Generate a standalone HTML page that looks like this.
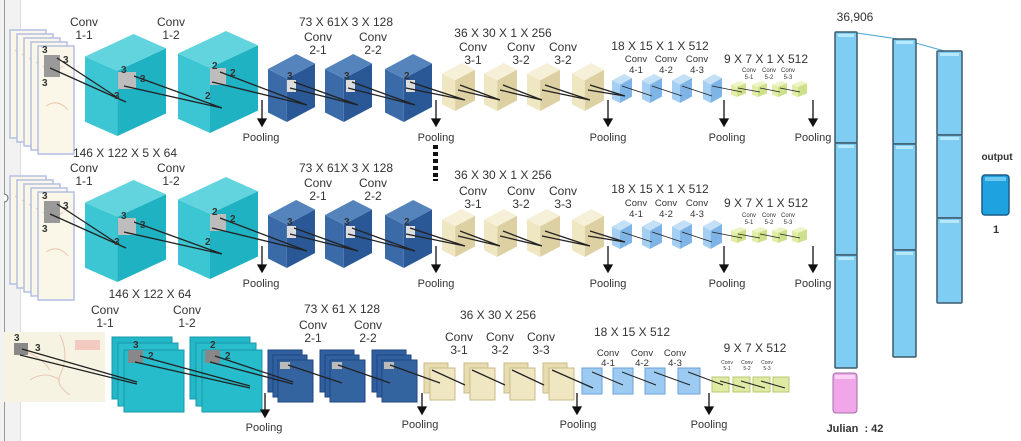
<!DOCTYPE html>
<html><head><meta charset="utf-8"><style>
html,body{margin:0;padding:0;background:#fff;}
svg{display:block;font-family:"Liberation Sans",sans-serif;}
text{fill:#333;}
</style></head><body>
<svg width="1021" height="441" viewBox="0 0 1021 441" xmlns="http://www.w3.org/2000/svg">
<defs>
<g id="cy"><polygon points="0,22 40,36 40,100 0,86" fill="#3cc6d3"/><polygon points="40,36 100,14 100,78 40,100" fill="#1fb2c3"/><polygon points="0,22 60,0 100,14 40,36" fill="#62d4de"/></g>
<g id="db"><polygon points="0,22 40,36 40,100 0,86" fill="#3a6aa8"/><polygon points="40,36 100,14 100,78 40,100" fill="#2a5896"/><polygon points="0,22 60,0 100,14 40,36" fill="#5584bd"/></g>
<g id="be"><polygon points="0,22 40,36 40,100 0,86" fill="#efe6c2"/><polygon points="40,36 100,14 100,78 40,100" fill="#ddd0a2"/><polygon points="0,22 60,0 100,14 40,36" fill="#f6f0d8"/></g>
<g id="lb"><polygon points="0,22 40,36 40,100 0,86" fill="#a5cff2"/><polygon points="40,36 100,14 100,78 40,100" fill="#7fb5e6"/><polygon points="0,22 60,0 100,14 40,36" fill="#c3e0f7"/></g>
<g id="yg"><polygon points="0,22 40,36 40,100 0,86" fill="#e2eea8"/><polygon points="40,36 100,14 100,78 40,100" fill="#cfe08a"/><polygon points="0,22 60,0 100,14 40,36" fill="#edf5c6"/></g>
<g id="sheet"><rect x="0" y="0" width="36" height="108" fill="#fbf7e8" stroke="#b3bfe6" stroke-width="1.5"/><path d="M5 20 q10 10 20 0 M8 60 q12 -8 22 4" stroke="#e9c9b0" fill="none"/></g>
<g id="row">
 <use href="#sheet" x="10" y="30"/><use href="#sheet" x="17" y="34"/><use href="#sheet" x="24" y="38"/><use href="#sheet" x="31" y="42"/><use href="#sheet" x="38" y="46"/>
 <rect x="44" y="55" width="16" height="22" fill="#9a9a9a"/>
 <use href="#cy" transform="translate(85,34) scale(0.81,1.02)"/>
 <use href="#cy" transform="translate(178,31) scale(0.8,1.02)"/>
 <use href="#db" transform="translate(268,54) scale(0.47,0.68)"/>
 <use href="#db" transform="translate(325,54) scale(0.47,0.68)"/>
 <use href="#db" transform="translate(385,54) scale(0.47,0.68)"/>
 <use href="#be" transform="translate(442,63) scale(0.33,0.48)"/>
 <use href="#be" transform="translate(484,63) scale(0.33,0.48)"/>
 <use href="#be" transform="translate(527,63) scale(0.33,0.48)"/>
 <use href="#be" transform="translate(572,63) scale(0.32,0.48)"/>
 <use href="#lb" transform="translate(612,74) scale(0.2,0.29)"/>
 <use href="#lb" transform="translate(642,74) scale(0.2,0.29)"/>
 <use href="#lb" transform="translate(672,74) scale(0.2,0.29)"/>
 <use href="#lb" transform="translate(703,74) scale(0.19,0.29)"/>
 <use href="#yg" transform="translate(731,81) scale(0.15,0.16)"/>
 <use href="#yg" transform="translate(752,81) scale(0.15,0.16)"/>
 <use href="#yg" transform="translate(772,81) scale(0.15,0.16)"/>
 <use href="#yg" transform="translate(792,81) scale(0.15,0.16)"/>
 <rect x="118" y="72" width="18" height="17" fill="#bdbdbd"/>
 <rect x="210" y="68" width="16" height="17" fill="#bdbdbd"/>
 <rect x="287" y="80" width="9" height="12" fill="#ddd"/>
 <rect x="346" y="80" width="9" height="12" fill="#ddd"/>
 <rect x="406" y="80" width="9" height="12" fill="#ddd"/>
 <g stroke="#222" stroke-width="1.3" fill="none">
  <path d="M57 58 L118 98 M50 68 L126 102"/>
  <path d="M134 76 L222 108 M124 86 L222 108"/>
  <path d="M220 72 L307 105 M212 82 L307 105"/>
  <path d="M294 82 L358 105 M290 88 L358 105"/>
  <path d="M352 82 L415 105 M348 88 L415 105"/>
  <path d="M410 82 L465 100 M406 88 L465 100"/>
  <path d="M460 85 L500 100 M458 90 L500 100 M503 85 L542 100 M500 90 L542 100 M545 85 L590 100 M542 90 L590 100 M590 85 L625 96 M588 90 L625 96"/>
  <path d="M622 86 L652 96 M652 86 L682 96 M682 86 L712 96 M712 86 L742 92 M738 88 L760 92 M760 88 L780 92 M780 88 L800 92" stroke-width="0.8"/>
 </g>
 <g font-size="10" font-weight="bold">
  <text x="42" y="53">3</text><text x="63" y="63">3</text><text x="42" y="86">3</text>
  <text x="121" y="73">3</text><text x="140" y="82">3</text><text x="114" y="99">3</text>
  <text x="212" y="69">2</text><text x="230" y="76">2</text><text x="205" y="99">2</text>
  <text x="287" y="79">3</text><text x="344" y="79">3</text><text x="404" y="79">2</text>
 </g>
 <g stroke="#111" stroke-width="1.3" fill="#111">
  <line x1="262" y1="100" x2="262" y2="120"/><polygon points="258,119 266,119 262,126"/>
  <line x1="436" y1="100" x2="436" y2="120"/><polygon points="432,119 440,119 436,126"/>
  <line x1="608" y1="100" x2="608" y2="120"/><polygon points="604,119 612,119 608,126"/>
  <line x1="724" y1="100" x2="724" y2="120"/><polygon points="720,119 728,119 724,126"/>
  <line x1="813" y1="100" x2="813" y2="120"/><polygon points="809,119 817,119 813,126"/>
 </g>
 <g font-size="11" text-anchor="middle">
  <text x="261" y="141">Pooling</text><text x="436" y="141">Pooling</text><text x="608" y="141">Pooling</text><text x="727" y="141">Pooling</text><text x="813" y="141">Pooling</text>
 </g>
</g>
</defs>
<rect x="0" y="0" width="20" height="441" fill="#f2f2f2"/>
<line x1="4.5" y1="0" x2="4.5" y2="441" stroke="#999"/>
<line x1="20.5" y1="0" x2="20.5" y2="441" stroke="#ddd"/>
<path d="M4 194 a4 4 0 0 1 0 8" stroke="#666" fill="#fff"/>

<use href="#row"/>
<use href="#row" y="146"/>

<g font-size="12" text-anchor="middle">
 <text x="84" y="26">Conv</text><text x="84" y="39">1-1</text>
 <text x="171" y="26">Conv</text><text x="171" y="39">1-2</text>
 <text x="346" y="26">73 X 61X 3 X 128</text>
 <text x="318" y="41">Conv</text><text x="318" y="54">2-1</text>
 <text x="373" y="41">Conv</text><text x="373" y="54">2-2</text>
 <text x="503" y="37">36 X 30 X 1 X 256</text>
 <text x="473" y="51">Conv</text><text x="473" y="64">3-1</text>
 <text x="521" y="51">Conv</text><text x="521" y="64">3-2</text>
 <text x="563" y="51">Conv</text><text x="563" y="64">3-2</text>
 <text x="660" y="50">18 X 15 X 1 X 512</text>
 <text x="766" y="63">9 X 7 X 1 X 512</text>
</g>
<g font-size="9.5" text-anchor="middle">
 <text x="636" y="62">Conv</text><text x="636" y="73">4-1</text>
 <text x="666" y="62">Conv</text><text x="666" y="73">4-2</text>
 <text x="697" y="62">Conv</text><text x="697" y="73">4-3</text>
</g>
<g font-size="6" text-anchor="middle" fill="#555">
 <text x="749" y="72">Conv</text><text x="749" y="79">5-1</text>
 <text x="769" y="72">Conv</text><text x="769" y="79">5-2</text>
 <text x="788" y="72">Conv</text><text x="788" y="79">5-3</text>
</g>
<g fill="#111"><rect x="433" y="145" width="5" height="4"/><rect x="433" y="152" width="5" height="4"/><rect x="433" y="159" width="5" height="4"/><rect x="433" y="166" width="5" height="4"/><rect x="433" y="173" width="5" height="4"/><rect x="433" y="179" width="5" height="2"/></g>

<g font-size="12" text-anchor="middle">
 <text x="125" y="157">146 X 122 X 5 X 64</text>
 <text x="84" y="172">Conv</text><text x="84" y="185">1-1</text>
 <text x="171" y="172">Conv</text><text x="171" y="185">1-2</text>
 <text x="346" y="172">73 X 61X 3 X 128</text>
 <text x="318" y="187">Conv</text><text x="318" y="200">2-1</text>
 <text x="373" y="187">Conv</text><text x="373" y="200">2-2</text>
 <text x="503" y="179">36 X 30 X 1 X 256</text>
 <text x="473" y="195">Conv</text><text x="473" y="208">3-1</text>
 <text x="521" y="195">Conv</text><text x="521" y="208">3-2</text>
 <text x="563" y="195">Conv</text><text x="563" y="208">3-3</text>
 <text x="660" y="193">18 X 15 X 1 X 512</text>
 <text x="766" y="207">9 X 7 X 1 X 512</text>
 <text x="150" y="298">146 X 122 X 64</text>
</g>
<g font-size="9.5" text-anchor="middle">
 <text x="636" y="206">Conv</text><text x="636" y="217">4-1</text>
 <text x="666" y="206">Conv</text><text x="666" y="217">4-2</text>
 <text x="697" y="206">Conv</text><text x="697" y="217">4-3</text>
</g>
<g font-size="6" text-anchor="middle" fill="#555">
 <text x="749" y="217">Conv</text><text x="749" y="224">5-1</text>
 <text x="769" y="217">Conv</text><text x="769" y="224">5-2</text>
 <text x="788" y="217">Conv</text><text x="788" y="224">5-3</text>
</g>

<!-- Row 3 -->
<rect x="4" y="332" width="101" height="70" fill="#f7f3e2"/>
<path d="M60 335 q10 20 0 40 q-5 10 10 20 M20 350 q20 5 30 20 M30 380 q15 -10 30 0" stroke="#e6c6b0" fill="none"/>
<rect x="75" y="340" width="25" height="10" fill="#f4c9c0"/>
<rect x="14" y="343" width="14" height="12" fill="#888"/>
<g stroke="#1898aa" stroke-width="1">
 <rect x="112" y="337" width="60" height="62" fill="#22b8c8"/><rect x="118" y="343" width="60" height="63" fill="#2abecd"/><rect x="124" y="350" width="60" height="62" fill="#26bccb"/>
 <rect x="190" y="337" width="60" height="62" fill="#22b8c8"/><rect x="196" y="343" width="60" height="63" fill="#2abecd"/><rect x="202" y="350" width="60" height="62" fill="#26bccb"/>
</g>
<g stroke="#1e4680" stroke-width="1">
 <rect x="268" y="350" width="34" height="42" fill="#2f5f9f"/><rect x="273" y="355" width="34" height="42" fill="#30609f"/><rect x="278" y="360" width="35" height="42" fill="#34649f"/>
 <rect x="320" y="350" width="34" height="42" fill="#2f5f9f"/><rect x="325" y="355" width="34" height="42" fill="#30609f"/><rect x="330" y="360" width="35" height="42" fill="#34649f"/>
 <rect x="372" y="350" width="34" height="42" fill="#2f5f9f"/><rect x="377" y="355" width="34" height="42" fill="#30609f"/><rect x="382" y="360" width="35" height="42" fill="#34649f"/>
</g>
<g stroke="#c9bb88" stroke-width="1">
 <rect x="424" y="363" width="24" height="30" fill="#e6dcb0"/><rect x="430" y="368" width="25" height="32" fill="#efe6c2"/>
 <rect x="464" y="363" width="24" height="30" fill="#e6dcb0"/><rect x="470" y="368" width="25" height="32" fill="#efe6c2"/>
 <rect x="504" y="363" width="24" height="30" fill="#e6dcb0"/><rect x="510" y="368" width="25" height="32" fill="#efe6c2"/>
 <rect x="543" y="363" width="24" height="30" fill="#e6dcb0"/><rect x="549" y="368" width="25" height="32" fill="#efe6c2"/>
</g>
<g stroke="#6aa3d8" stroke-width="1" fill="#9ccaf0">
 <rect x="582" y="368" width="20" height="26"/><rect x="613" y="368" width="20" height="26"/><rect x="645" y="368" width="20" height="26"/><rect x="678" y="368" width="22" height="26"/>
</g>
<g stroke="#b8c870" stroke-width="1" fill="#dfeaa5">
 <rect x="712" y="377" width="17" height="15"/><rect x="733" y="377" width="17" height="15"/><rect x="753" y="377" width="17" height="15"/><rect x="773" y="377" width="16" height="15"/>
</g>
<rect x="128" y="350" width="15" height="13" fill="#888"/>
<rect x="205" y="350" width="15" height="13" fill="#888"/>
<rect x="280" y="362" width="10" height="7" fill="#bbb"/><rect x="332" y="362" width="10" height="7" fill="#bbb"/><rect x="384" y="362" width="10" height="7" fill="#bbb"/>
<g stroke="#222" stroke-width="1.3" fill="none">
 <path d="M22 349 L137 382 M20 355 L137 384"/>
 <path d="M140 356 L250 386 M135 362 L250 388"/>
 <path d="M215 356 L293 382 M210 362 L293 384"/>
 <path d="M288 365 L342 383 M338 365 L390 383 M390 365 L440 383"/>
 <path d="M432 370 L465 385 M472 370 L505 385 M512 370 L544 385 M552 370 L593 388"/>
 <path d="M592 372 L623 385 M622 372 L656 385 M654 372 L690 385 M688 372 L723 385 M720 381 L745 388 M741 381 L765 388 M761 381 L785 388" stroke-width="1"/>
</g>
<g font-size="10" font-weight="bold">
 <text x="14" y="341">3</text><text x="35" y="351">3</text>
 <text x="133" y="348">3</text><text x="148" y="359">2</text>
 <text x="210" y="348">2</text><text x="225" y="359">2</text>
</g>
<g stroke="#111" stroke-width="1.3" fill="#111">
 <line x1="265" y1="393" x2="265" y2="411"/><polygon points="261,410 269,410 265,417"/>
 <line x1="422" y1="393" x2="422" y2="408"/><polygon points="418,407 426,407 422,414"/>
 <line x1="577" y1="393" x2="577" y2="408"/><polygon points="573,407 581,407 577,414"/>
 <line x1="709" y1="393" x2="709" y2="408"/><polygon points="705,407 713,407 709,414"/>
</g>
<g font-size="11" text-anchor="middle">
 <text x="264" y="431">Pooling</text><text x="420" y="428">Pooling</text><text x="578" y="428">Pooling</text><text x="709" y="428">Pooling</text>
</g>
<g font-size="12" text-anchor="middle">
 <text x="105" y="314">Conv</text><text x="105" y="327">1-1</text>
 <text x="187" y="314">Conv</text><text x="187" y="327">1-2</text>
 <text x="342" y="313">73 X 61 X 128</text>
 <text x="313" y="329">Conv</text><text x="313" y="342">2-1</text>
 <text x="368" y="329">Conv</text><text x="368" y="342">2-2</text>
 <text x="498" y="319">36 X 30 X 256</text>
 <text x="459" y="341">Conv</text><text x="459" y="354">3-1</text>
 <text x="500" y="341">Conv</text><text x="500" y="354">3-2</text>
 <text x="541" y="341">Conv</text><text x="541" y="354">3-3</text>
 <text x="632" y="336">18 X 15 X 512</text>
 <text x="755" y="352">9 X 7 X 512</text>
</g>
<g font-size="9.5" text-anchor="middle">
 <text x="608" y="356">Conv</text><text x="608" y="366">4-1</text>
 <text x="642" y="356">Conv</text><text x="642" y="366">4-2</text>
 <text x="675" y="356">Conv</text><text x="675" y="366">4-3</text>
</g>
<g font-size="5" text-anchor="middle" fill="#666">
 <text x="727" y="364">Conv</text><text x="727" y="370">5-1</text>
 <text x="747" y="364">Conv</text><text x="747" y="370">5-2</text>
 <text x="767" y="364">Conv</text><text x="767" y="370">5-3</text>
</g>

<!-- FC layers -->
<text x="855" y="21" font-size="12" text-anchor="middle">36,906</text>
<polyline points="857,33 905,40 948,52" stroke="#4aa8d8" fill="none"/>
<g stroke="#3d5a6a" stroke-width="1.5" fill="#7fcdf2">
 <rect x="835" y="32" width="22" height="111" rx="1"/><rect x="835" y="143" width="22" height="112" rx="1"/><rect x="835" y="255" width="22" height="113" rx="1"/>
 <rect x="893" y="39" width="23" height="105" rx="1"/><rect x="893" y="144" width="23" height="106" rx="1"/><rect x="893" y="250" width="23" height="107" rx="1"/>
 <rect x="937" y="51" width="25" height="84" rx="1"/><rect x="937" y="135" width="25" height="83" rx="1"/><rect x="937" y="218" width="25" height="85" rx="1"/>
</g>
<g fill="#b8e8fb"><rect x="838" y="34" width="16" height="3"/><rect x="838" y="145" width="16" height="3"/><rect x="838" y="257" width="16" height="3"/><rect x="896" y="41" width="17" height="3"/><rect x="896" y="146" width="17" height="3"/><rect x="896" y="252" width="17" height="3"/><rect x="940" y="53" width="19" height="3"/><rect x="940" y="137" width="19" height="3"/><rect x="940" y="220" width="19" height="3"/></g>
<rect x="833" y="373" width="24" height="40" rx="3" fill="#f2a6ea" stroke="#a070a0"/>
<rect x="835" y="375" width="20" height="4" fill="#fcd2f6"/>
<text x="855" y="432" font-size="11" font-weight="bold" text-anchor="middle">Julian &#160;: 42</text>
<text x="997" y="160" font-size="10" font-weight="bold" text-anchor="middle">output</text>
<rect x="982" y="175" width="27" height="40" rx="3" fill="#1fa3e0" stroke="#1a5c88" stroke-width="1.5"/>
<rect x="985" y="177" width="21" height="4" fill="#6cc8f0"/>
<text x="996" y="233" font-size="11" font-weight="bold" text-anchor="middle">1</text>
</svg>
</body></html>
